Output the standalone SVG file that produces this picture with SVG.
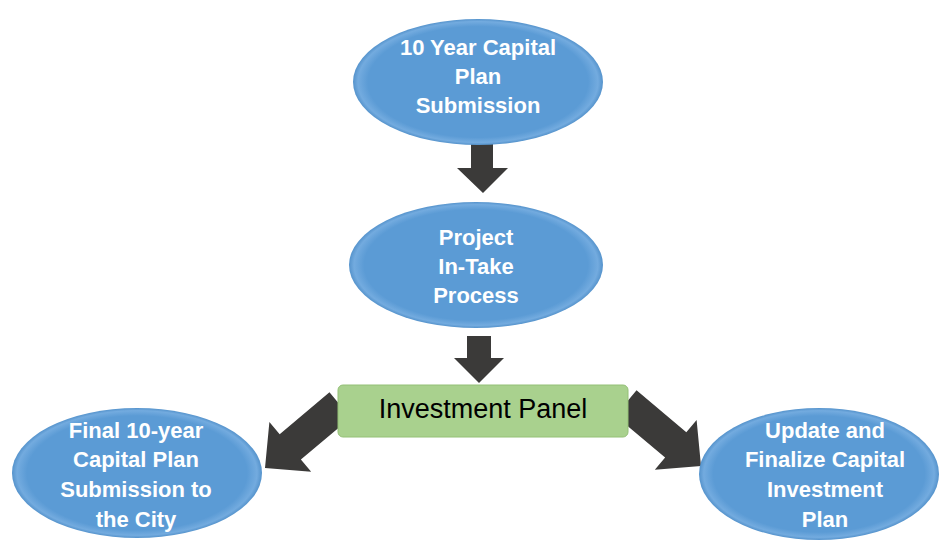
<svg xmlns="http://www.w3.org/2000/svg" width="940" height="542" viewBox="0 0 940 542">
  <defs>
    <radialGradient id="blue" cx="0.5" cy="0.5" r="0.5">
      <stop offset="0" stop-color="#5b9bd5"/>
      <stop offset="0.88" stop-color="#5b9bd5"/>
      <stop offset="0.96" stop-color="#73abdf"/>
      <stop offset="1" stop-color="#5593cc"/>
    </radialGradient>
    <polygon id="blockArrow" points="-98,-16.5 -33,-16.5 -33,-32.5 0,0 -33,32.5 -33,16.5 -98,16.5"/>
  </defs>
  <style>
    .oval { fill: url(#blue); }
    .otxt { font-family: "Liberation Sans", Arial, sans-serif; font-weight: bold; font-size: 22px; fill: #ffffff; text-anchor: middle; }
    .arrow { fill: #3b3a39; }
    .panel { fill: #a9d18e; stroke: #94c077; stroke-width: 1; }
    .ptxt { font-family: "Liberation Sans", Arial, sans-serif; font-size: 27px; fill: #000000; text-anchor: middle; }
  </style>
  <rect width="940" height="542" fill="#ffffff"/>
  <g id="connectors">
    <polygon class="arrow" points="471,140 493,140 493,168 508,168 483,193 457,168 471,168"/>
    <polygon class="arrow" points="467,336 491,336 491,358 504,358 479,383 454,358 467,358"/>
    <use href="#blockArrow" class="arrow" transform="translate(265,468) rotate(140)"/>
    <use href="#blockArrow" class="arrow" transform="translate(701,466) rotate(40)"/>
  </g>
  <g id="node-10year">
    <ellipse class="oval" cx="478" cy="82" rx="125" ry="63"/>
    <text class="otxt" x="478" y="55">10 Year Capital</text>
    <text class="otxt" x="478" y="84">Plan</text>
    <text class="otxt" x="478" y="113">Submission</text>
  </g>
  <g id="node-intake">
    <ellipse class="oval" cx="476" cy="265" rx="127" ry="63"/>
    <text class="otxt" x="476" y="245">Project</text>
    <text class="otxt" x="476" y="274">In-Take</text>
    <text class="otxt" x="476" y="303">Process</text>
  </g>
  <g id="node-panel">
    <rect class="panel" x="338" y="385" width="290" height="52" rx="5"/>
    <text class="ptxt" x="483" y="418">Investment Panel</text>
  </g>
  <g id="node-final">
    <ellipse class="oval" cx="137" cy="473" rx="125" ry="65"/>
    <text class="otxt" x="136" y="438">Final 10-year</text>
    <text class="otxt" x="136" y="467">Capital Plan</text>
    <text class="otxt" x="136" y="497">Submission to</text>
    <text class="otxt" x="136" y="527">the City</text>
  </g>
  <g id="node-update">
    <ellipse class="oval" cx="819" cy="474" rx="120" ry="66"/>
    <text class="otxt" x="825" y="438">Update and</text>
    <text class="otxt" x="825" y="467">Finalize Capital</text>
    <text class="otxt" x="825" y="497">Investment</text>
    <text class="otxt" x="825" y="527">Plan</text>
  </g>
</svg>
